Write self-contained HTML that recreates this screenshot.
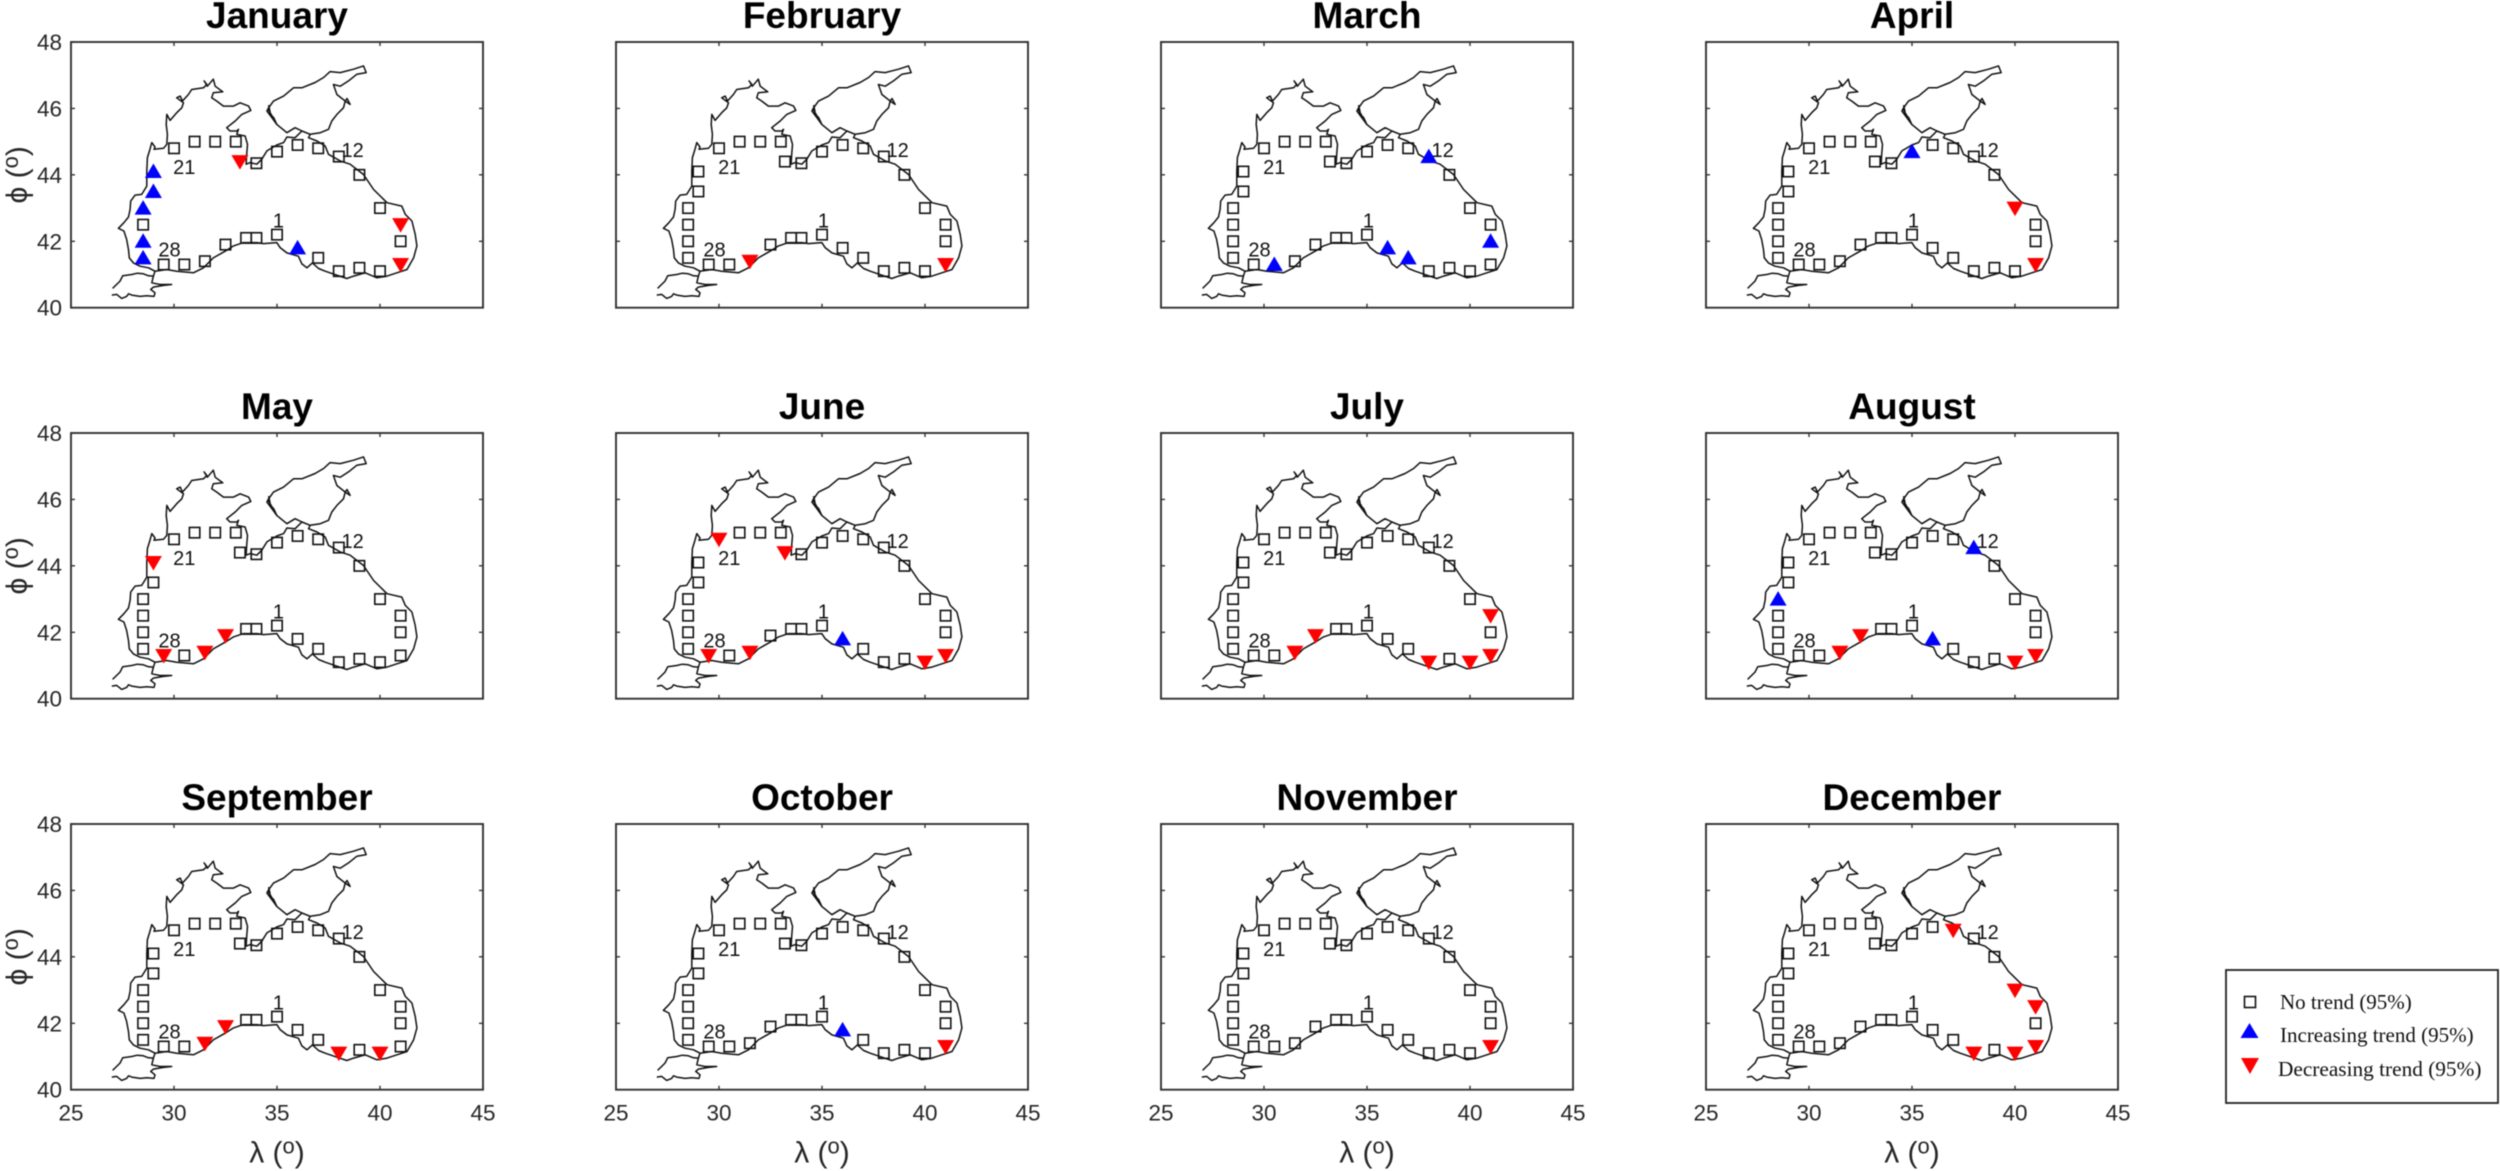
<!DOCTYPE html>
<html lang="en">
<head>
<meta charset="utf-8">
<title>Monthly trends at Black Sea stations</title>
<style>
html,body{margin:0;padding:0;background:#fff;width:2500px;height:1171px;overflow:hidden}
svg{display:block;filter:blur(0.45px)}
text{font-family:"Liberation Sans",sans-serif}
</style>
</head>
<body>
<svg id="chart" xmlns="http://www.w3.org/2000/svg" width="2500" height="1171" viewBox="0 0 2500 1171">
<g id="panels"></g>
<g id="legend">
<rect x="2226" y="970" width="272" height="133" fill="#fff" stroke="#222" stroke-width="1.8"/>
<g>
<rect x="2244.5" y="996.5" width="11" height="11" fill="none" stroke="#111" stroke-width="1.6"/>
<text x="2280" y="1009" style="font-family:'Liberation Serif',serif" font-size="21" fill="#111">No trend (95%)</text>
</g>
<g>
<polygon points="2240.5,1038 2258.5,1038 2249.5,1023" fill="#0000ff"/>
<text x="2280" y="1042" style="font-family:'Liberation Serif',serif" font-size="21" fill="#111">Increasing trend (95%)</text>
</g>
<g>
<polygon points="2241,1058 2259,1058 2250,1074" fill="#ff0000"/>
<text x="2278" y="1076" style="font-family:'Liberation Serif',serif" font-size="21.3" fill="#111">Decreasing trend (95%)</text>
</g>
</g>
</svg>
<script>
const months = ["January","February","March","April","May","June","July","August","September","October","November","December"];
const xTickLabels = [25,30,35,40,45];
const yTickLabels = [40,42,44,46,48];

const stationLon = [35,36,37,38,39,40,41,41,41,40,39,38,37,36,35,34,33.2,33,32,31,30,29,29,28.5,28.5,28.5,28.5,29.5,30.5,31.5,32.5,33.5,34];
const stationLat = [42.2,41.8,41.5,41.1,41.2,41.1,41.3,42,42.5,43,44,44.55,44.8,44.9,44.7,44.35,44.4,45,45,45,44.8,44.1,43.5,43,42.5,42,41.5,41.3,41.3,41.4,41.9,42.1,42.1];

const increasingStations = [
  [2,22,23,24,26,27],
  [],
  [2,3,8,12,29],
  [15],
  [],
  [2],
  [],
  [2,12,24],
  [],
  [2],
  [],
  []
];
const decreasingStations = [
  [7,9,17],
  [7,30],
  [],
  [7,10],
  [22,28,30,31],
  [6,7,17,21,28,30],
  [4,6,7,9,30,31],
  [6,7,30,31],
  [4,6,30,31],
  [7],
  [7],
  [4,6,7,9,10,13]
];

const stationLabels = ["21","12","1","28"];
const stationLabelLon = [30.5,38.67,35.07,29.78];
const stationLabelLat = [44.23,44.75,42.63,41.75];

const blackSeaLon = [29.08,28.76,28.35,28.03,27.83,27.79,27.70,27.57,27.30,27.57,27.79,27.87,27.90,28.11,28.43,28.68,28.68,28.71,28.81,28.92,29.08,29.03,29.49,29.65,29.68,29.62,29.65,29.81,30.13,30.38,30.46,30.13,30.30,30.41,30.70,30.86,31.43,31.59,31.46,31.62,31.91,32.0,32.37,31.91,31.83,32.08,32.40,32.89,33.21,33.62,33.73,33.29,32.97,32.56,32.72,33.05,33.13,33.05,33.45,33.57,33.53,33.50,33.70,34.02,34.26,34.51,34.99,35.32,35.48,35.88,36.21,36.61,36.53,36.94,37.34,37.50,38.07,38.55,39.20,39.69,40.34,41.06,41.23,41.55,41.71,41.79,41.63,41.31,40.82,40.34,39.85,39.28,38.72,38.39,37.91,37.34,37.02,36.72,36.45,36.21,36.04,35.48,35.15,34.99,34.34,34.02,33.37,32.89,32.48,31.91,31.43,30.94,30.13,29.65,29.08];
const blackSeaLat = [41.10,41.20,41.25,41.35,41.50,41.75,42.06,42.31,42.39,42.56,42.73,42.96,43.21,43.39,43.41,43.66,44.11,44.52,44.72,44.97,44.84,44.77,44.80,44.92,45.22,45.52,45.82,45.64,45.87,46.02,46.17,46.32,46.37,46.22,46.42,46.57,46.62,46.72,46.83,46.67,46.88,46.67,46.50,46.47,46.32,46.22,46.07,46.07,46.17,46.07,45.94,45.82,45.62,45.42,45.32,45.32,45.37,45.22,45.17,44.92,44.62,44.32,44.37,44.32,44.47,44.72,44.90,44.97,45.14,45.12,45.32,45.22,45.12,45.02,44.87,44.62,44.42,44.32,44.01,43.56,43.16,43.06,42.81,42.61,42.21,41.86,41.50,41.15,41.05,40.95,40.90,41.05,40.95,40.88,40.98,41.10,41.18,41.35,41.20,41.32,41.55,41.65,41.81,41.96,41.93,41.96,41.96,41.86,41.70,41.50,41.20,41.05,41.10,41.15,41.10];

const azovLon = [36.61,37.10,37.50,37.66,37.91,38.23,38.31,38.55,38.40,38.31,37.91,37.74,38.07,38.47,38.88,39.33,39.20,38.72,38.07,37.58,37.26,36.85,36.21,35.80,35.32,34.83,34.59,34.51,34.75,34.99,35.48,35.88,36.21];
const azovLat = [45.22,45.27,45.37,45.62,45.82,46.02,46.22,46.12,46.30,46.22,46.42,46.72,46.67,46.83,47.03,47.08,47.28,47.18,47.08,47.11,46.93,46.78,46.62,46.62,46.37,46.22,46.02,45.92,45.72,45.52,45.27,45.42,45.32];

const sivashLon = [34.59,34.66,34.56,34.74,34.62,34.84,34.99];
const sivashLat = [46.10,45.90,45.98,45.80,45.86,45.72,45.52];

const thraceLon = [27.02,27.38,27.51,27.95,28.22,28.51,28.76,29.0,29.08];
const thraceLat = [40.58,40.80,40.96,41.00,41.04,41.02,40.96,40.95,41.10];

const marmaraLon = [29.0,28.92,29.32,29.89,29.49,29.0,28.87,29.08,29.03,28.68,28.35,27.95,27.79,27.70,27.46,27.22,26.98];
const marmaraLat = [40.95,40.75,40.70,40.70,40.67,40.62,40.55,40.45,40.34,40.36,40.34,40.38,40.42,40.34,40.28,40.40,40.38];

const NS = "http://www.w3.org/2000/svg";
const panelWidth = 412, panelHeight = 265.7;
const lonMin = 25, lonMax = 45, latMin = 40, latMax = 48;
const tickColor = "#333333", labelColor = "#262626";

function xScale(lon, left){ return left + (lon - lonMin) / (lonMax - lonMin) * panelWidth; }
function yScale(lat, top){ return top + (latMax - lat) / (latMax - latMin) * panelHeight; }
function make(tag, attrs, parent){
  const el = document.createElementNS(NS, tag);
  for (const k in attrs) el.setAttribute(k, attrs[k]);
  parent.appendChild(el);
  return el;
}
function linePath(lons, lats, left, top){
  return lons.map((v,i) => (i ? "L" : "M") + xScale(v,left).toFixed(1) + " " + yScale(lats[i],top).toFixed(1)).join("");
}

const root = document.getElementById("panels");
months.forEach((month, m) => {
  const col = m % 4, row = Math.floor(m / 4);
  const left = 71 + col * 545, top = 42 + row * 391;
  const slug = month.toLowerCase();

  const g = make("g", {}, root);
  
  

  const title = make("text", {x: left + panelWidth/2, y: top - 14, "text-anchor":"middle", "font-size":37, "font-weight":"bold", fill:"#000"}, g);
  
  
  title.textContent = month;

  const box = make("rect", {x:left, y:top, width:panelWidth, height:panelHeight, fill:"#fff", stroke:tickColor, "stroke-width":1.9}, g);
  
  

  xTickLabels.forEach(t => {
    const x = xScale(t, left);
    const tk = make("path", {d:`M${x} ${top+panelHeight}v-4M${x} ${top}v4`, stroke:tickColor, "stroke-width":1.4, fill:"none"}, g);
    
    
    if (row === 2) {
      const lb = make("text", {x:x, y:top+panelHeight+31, "text-anchor":"middle", "font-size":22.5, fill:labelColor}, g);
      
      
      lb.textContent = t;
    }
  });
  yTickLabels.forEach(t => {
    const y = yScale(t, top);
    const tk = make("path", {d:`M${left} ${y}h4M${left+panelWidth} ${y}h-4`, stroke:tickColor, "stroke-width":1.4, fill:"none"}, g);
    
    
    if (col === 0) {
      const lb = make("text", {x:left-9, y:y+8, "text-anchor":"end", "font-size":22.5, fill:labelColor}, g);
      
      
      lb.textContent = t;
    }
  });

  if (row === 2) {
    const xt = make("text", {x:left+panelWidth/2, y:top+panelHeight+73, "text-anchor":"middle", "font-size":30, fill:labelColor}, g);
    
    
    xt.textContent = "λ (";
    const sup = make("tspan", {"font-size":22, dy:-9}, xt);
    sup.textContent = "o";
    const cl = make("tspan", {dy:9}, xt);
    cl.textContent = ")";
  }
  if (col === 0) {
    const cy = top + panelHeight/2;
    const yt = make("text", {x:0, y:0, transform:`translate(27 ${cy}) rotate(-90)`, "text-anchor":"middle", "font-size":30, fill:labelColor}, g);
    
    
    yt.textContent = "ϕ (";
    const sup = make("tspan", {"font-size":22, dy:-9}, yt);
    sup.textContent = "o";
    const cl = make("tspan", {dy:9}, yt);
    cl.textContent = ")";
  }

  const coast = make("g", {fill:"none", stroke:"#111", "stroke-width":1.5, "stroke-linejoin":"round"}, g);
  
  
  [[blackSeaLon,blackSeaLat],[azovLon,azovLat],[sivashLon,sivashLat],[thraceLon,thraceLat],[marmaraLon,marmaraLat]].forEach(pair => {
    const p = make("path", {d: linePath(pair[0], pair[1], left, top)}, coast);
    
    
  });

  stationLabels.forEach((s, i) => {
    const t = make("text", {x:xScale(stationLabelLon[i],left), y:yScale(stationLabelLat[i],top)+7, "text-anchor":"middle", "font-size":20, fill:"#111"}, g);
    
    
    t.textContent = s;
  });

  stationLon.forEach((lon, i) => {
    const id = i + 1;
    const x = xScale(lon, left), y = yScale(stationLat[i], top);
    if (increasingStations[m].includes(id)) {
      const mk = make("polygon", {points:`${x-8.5},${y+6.5} ${x+8.5},${y+6.5} ${x},${y-8}`, fill:"#0000ff"}, g);
      
      
    } else if (decreasingStations[m].includes(id)) {
      const mk = make("polygon", {points:`${x-8.5},${y-6.5} ${x+8.5},${y-6.5} ${x},${y+8}`, fill:"#ff0000"}, g);
      
      
    } else {
      const mk = make("rect", {x:x-5.2, y:y-5.2, width:10.4, height:10.4, fill:"none", stroke:"#111", "stroke-width":1.6}, g);
      
      
    }
  });
});
</script>
</body>
</html>
